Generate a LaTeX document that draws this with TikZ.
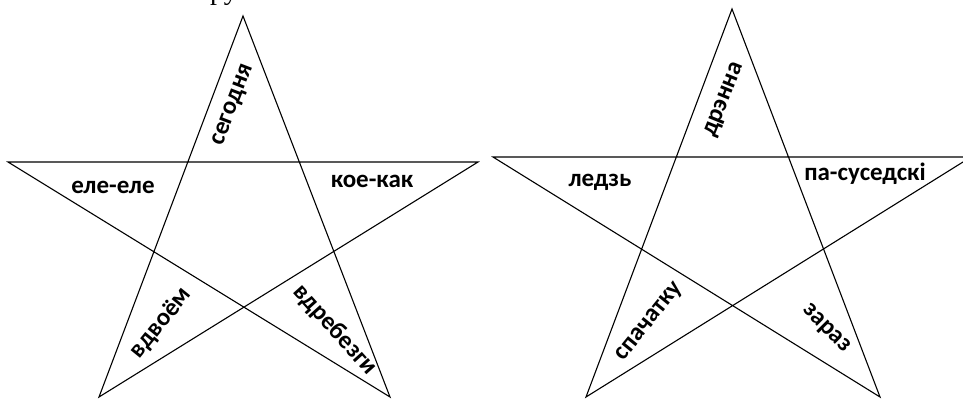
\documentclass[tikz,border=0pt]{standalone}
\usepackage{fontspec}
\setmainfont{Carlito}
\newfontfamily\serifcut{Liberation Serif}
\begin{document}
\begin{tikzpicture}[x=1pt,y=-1pt,
  starline/.style={line width=1.1pt, line join=miter},
  lbl/.style={font=\fontsize{25}{30}\selectfont\bfseries, inner sep=0pt}]
\useasboundingbox (0,0) rectangle (963,399);
\clip (0,0) rectangle (963,399);
% left star
\coordinate (A1) at (243,16);
\coordinate (L1) at (8,162);
\coordinate (R1) at (478,162);
\coordinate (BL1) at (99,397);
\coordinate (BR1) at (390,397);
\draw[starline] (A1) -- (BL1) -- (R1) -- (L1) -- (BR1) -- cycle;
% right star
\coordinate (A2) at (732,9);
\coordinate (L2) at (493,157);
\coordinate (R2) at (971,157);
\coordinate (BL2) at (586,397);
\coordinate (BR2) at (880,397);
\draw[starline] (A2) -- (BL2) -- (R2) -- (L2) -- (BR2) -- cycle;
% cut-off heading
\node[anchor=base, inner sep=0pt, font=\serifcut\fontsize{28}{32}\selectfont] (head) at (224,-1) {ру};
% labels left
\node[lbl, rotate=69] (t1) at (234,105) {сегодня};
\node[lbl] (t2) at (113,187) {еле-еле};
\node[lbl] (t3) at (372,181) {кое-как};
\node[lbl, rotate=51] (t4) at (161,323) {вдвоём};
\node[lbl, rotate=-48] (t5) at (335,330) {вдребезги};
% labels right
\node[lbl, rotate=68] (u1) at (725,100) {дрэнна};
\node[lbl] (u2) at (600,182) {ледзь};
\node[lbl] (u3) at (865,174) {па-суседскі};
\node[lbl, rotate=51] (u4) at (650,322) {спачатку};
\node[lbl, rotate=-45] (u5) at (826,329) {зараз};
\end{tikzpicture}
\end{document}
